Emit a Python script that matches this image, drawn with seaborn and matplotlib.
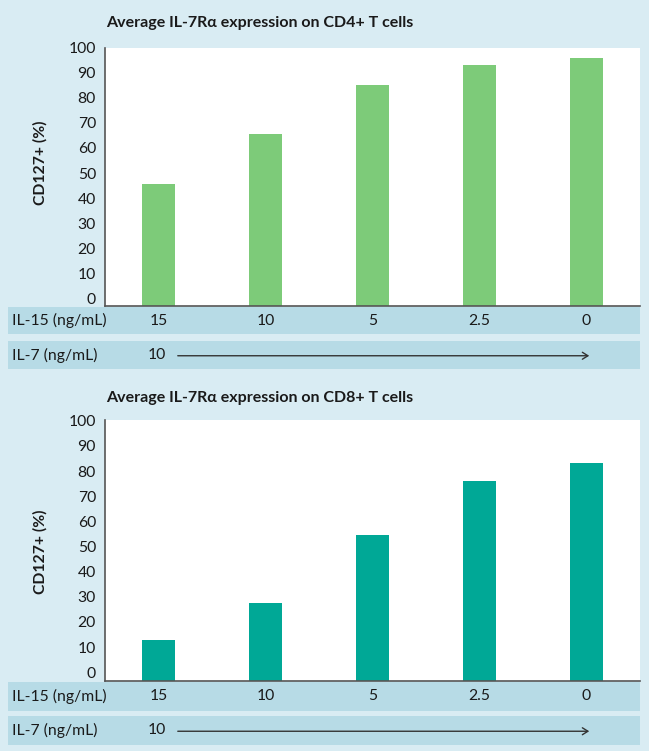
import matplotlib
matplotlib.use("Agg")
import matplotlib.pyplot as plt
import seaborn as sns
import pandas as pd
from matplotlib.patches import Rectangle, FancyArrowPatch

# ---- data -------------------------------------------------------------
il15_levels = ["15", "10", "5", "2.5", "0"]
il7_level = "10"
cd4_cd127 = [45.5, 65.5, 85.2, 93.0, 95.8]
cd8_cd127 = [12.8, 27.4, 54.6, 76.2, 83.2]
panel_titles = ["Average IL-7R\u03b1 expression on CD4+ T cells",
                "Average IL-7R\u03b1 expression on CD8+ T cells"]
y_label = "CD127+ (%)"
row_labels = ["IL-15 (ng/mL)", "IL-7 (ng/mL)"]
y_ticks = list(range(0, 101, 10))

# ---- style ------------------------------------------------------------
sns.set_theme(style="white")
plt.rcParams["font.family"] = ["Lato", "DejaVu Sans"]

BG = "#d9ecf3"
ROW = "#b7dbe6"
GREEN = "#7dcb79"
TEAL = "#00a896"
INK = "#1a1a1a"
SPINE = "#555555"

W, H = 649, 751
fig = plt.figure(figsize=(W / 100, H / 100), dpi=100, facecolor=BG)


def fx(px):
    return px / W


def fy(py):
    return 1 - py / H


def add_panel(values, color, title, title_y, label_y, top, bottom, row1, row2, ylim):
    ax = fig.add_axes([fx(105), fy(bottom), fx(640) - fx(105), fy(top) - fy(bottom)])
    ax.set_zorder(3)
    ax.set_facecolor("white")
    df = pd.DataFrame({"il15": il15_levels, "cd127": values})
    sns.barplot(data=df, x="il15", y="cd127", order=il15_levels, color=color,
                width=0.31, saturation=1, ax=ax, errorbar=None)
    # bars rise from the axis floor; their tops sit at the data values
    for p in ax.patches:
        h = p.get_height()
        p.set_y(ylim[0])
        p.set_height(h - ylim[0])
        p.set_edgecolor("none")
    ax.set_xlim(-0.5, 4.5)
    ax.set_ylim(*ylim)
    ax.set_yticks(y_ticks)
    ax.set_yticklabels([str(t) for t in y_ticks], fontsize=11.3, color=INK)
    ax.tick_params(axis="y", length=0, pad=6.5)
    ax.tick_params(axis="x", length=0, pad=6, labelsize=11.3, labelcolor=INK)
    ax.set_xlabel("")
    ax.set_ylabel("")
    for s in ("top", "right"):
        ax.spines[s].set_visible(False)
    for s in ("left", "bottom"):
        ax.spines[s].set_color(SPINE)
        ax.spines[s].set_linewidth(1.2)
    ax.spines["bottom"].set_zorder(5)

    # title and rotated axis label
    fig.text(fx(106), fy(title_y), title, fontsize=11.5, fontweight="bold",
             color=INK, ha="left", va="center")
    fig.text(fx(40), fy(label_y), y_label, fontsize=11.3,
             fontweight="bold", color=INK, rotation=90, ha="center", va="center")

    # concentration rows beneath the bars
    for (r0, r1) in (row1, row2):
        fig.patches.append(Rectangle((fx(8), fy(r1)), fx(640) - fx(8), fy(r0) - fy(r1),
                                     transform=fig.transFigure, facecolor=ROW,
                                     edgecolor="none", zorder=0))
    fig.text(fx(12), fy((row1[0] + row1[1]) / 2), row_labels[0], fontsize=11.3,
             color=INK, ha="left", va="center")
    yc = fy((row2[0] + row2[1]) / 2)
    fig.text(fx(12), yc, row_labels[1], fontsize=11.3, color=INK, ha="left", va="center")
    fig.text(fx(157), yc, il7_level, fontsize=11.3, color=INK, ha="center", va="center")
    fig.add_artist(FancyArrowPatch(
        (fx(175), yc - 0.001), (fx(592), yc - 0.001), transform=fig.transFigure,
        arrowstyle="->,head_length=4,head_width=2.5", color="#333333", lw=1.0,
        mutation_scale=1))
    return ax


add_panel(cd4_cd127, GREEN, panel_titles[0], 23, 163, 47.7, 305.7,
          (306.7, 334.3), (340.7, 369.3), (-2.9, 99.8))
add_panel(cd8_cd127, TEAL, panel_titles[1], 398, 552, 420.0, 681.0,
          (681.7, 710.7), (716.0, 745.0), (-3.5, 100.3))

fig.savefig("out.png", dpi=100, facecolor=BG)
